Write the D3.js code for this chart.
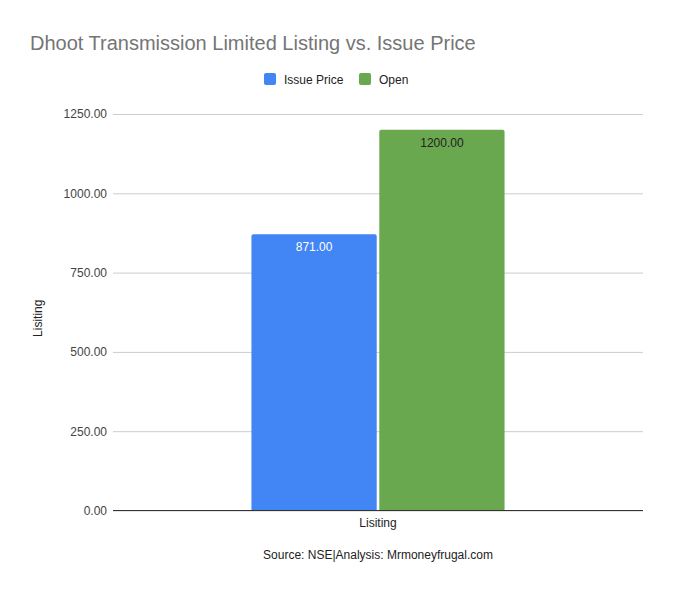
<!DOCTYPE html>
<html><head><meta charset="utf-8">
<script src="https://cdn.jsdelivr.net/npm/d3@7"></script>
<style>body{margin:0;background:#fff}text{font-family:"Liberation Sans",Arial,sans-serif}</style>
</head><body><svg id="c" width="673" height="592"></svg>
<script>
const categories = ["Lisiting"];
const seriesNames = ["Issue Price", "Open"];
const seriesValues = [871, 1200];
const seriesColors = ["#4285f4", "#6aa84f"];
const labelColors = ["#ffffff", "#222222"];
const yTicks = [0, 250, 500, 750, 1000, 1250];

const svg = d3.select("#c");
svg.append("rect").attr("width",673).attr("height",592).attr("fill","#fff");
const m = {l:113, r:643, t:114, b:510.5};
const y = d3.scaleLinear().domain([0,1250]).range([m.b, m.t]);
const x0 = d3.scaleBand().domain(categories).range([m.l, m.r]).paddingInner(0).paddingOuter(0.547);
const x1 = d3.scaleBand().domain(seriesNames).range([0, x0.bandwidth()]).paddingInner(0.02);

svg.append("text").attr("x",30).attr("y",50).attr("font-size",20).attr("fill","#757575")
  .text("Dhoot Transmission Limited Listing vs. Issue Price");

// grid
const gAxis = svg.append("g").attr("transform",`translate(${m.l},0)`)
  .call(d3.axisLeft(y).tickValues(yTicks).tickSize(-(m.r-m.l)).tickPadding(6).tickFormat(d3.format(".2f")));
gAxis.select(".domain").remove();
gAxis.selectAll(".tick line").attr("stroke","#cccccc");
gAxis.selectAll(".tick text").attr("font-size",12).attr("fill","#444").attr("font-family","Liberation Sans, Arial, sans-serif");

const data = seriesNames.map((s,i)=>({cat:categories[0], s, v:seriesValues[i], c:seriesColors[i], lc:labelColors[i]}));
const g = svg.append("g");
g.selectAll("path.bar").data(data).enter().append("path").attr("class","bar")
  .attr("fill",d=>d.c)
  .attr("d",d=>{
    const bx = x0(d.cat)+x1(d.s), bw = x1.bandwidth(), by = y(d.v), bh = y(0)-y(d.v), r=2;
    return `M${bx},${by+bh}V${by+r}Q${bx},${by} ${bx+r},${by}H${bx+bw-r}Q${bx+bw},${by} ${bx+bw},${by+r}V${by+bh}Z`;
  });
g.selectAll("text.lab").data(data).enter().append("text")
  .attr("x",d=>x0(d.cat)+x1(d.s)+x1.bandwidth()/2).attr("y",d=>y(d.v)+17)
  .attr("text-anchor","middle").attr("font-size",12).attr("fill",d=>d.lc)
  .text(d=>d3.format(".2f")(d.v));

// baseline
svg.append("line").attr("x1",m.l).attr("x2",m.r).attr("y1",y(0)).attr("y2",y(0)).attr("stroke","#333");

// x label
svg.append("text").attr("x",x0(categories[0])+x0.bandwidth()/2).attr("y",527).attr("text-anchor","middle")
  .attr("font-size",12).attr("fill","#222").text(categories[0]);
// y title
svg.append("text").attr("transform",`translate(42,${(m.t+m.b)/2+6}) rotate(-90)`).attr("text-anchor","middle")
  .attr("font-size",12).attr("fill","#222").text("Lisiting");
// source
svg.append("text").attr("x",378).attr("y",559).attr("text-anchor","middle").attr("font-size",12).attr("fill","#222")
  .text("Source: NSE|Analysis: Mrmoneyfrugal.com");

// legend
const lg = svg.append("g");
const legX = [264, 359];
seriesNames.forEach((s,i)=>{
  lg.append("rect").attr("x",legX[i]).attr("y",73).attr("width",12).attr("height",12).attr("rx",2).attr("fill",seriesColors[i]);
  lg.append("text").attr("x",legX[i]+20).attr("y",83.5).attr("font-size",12).attr("fill","#222").text(s);
});
</script></body></html>
